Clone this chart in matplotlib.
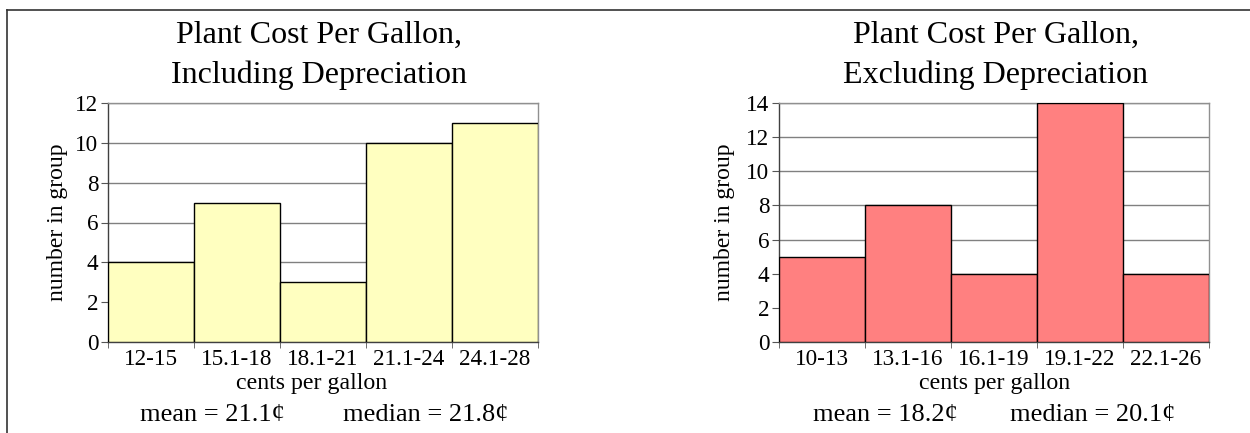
import matplotlib
matplotlib.use('Agg')
import matplotlib.pyplot as plt
from matplotlib.lines import Line2D

plt.rcParams['font.family'] = ['Liberation Serif', 'DejaVu Serif']

# data
incl_bins = ['12-15', '15.1-18', '18.1-21', '21.1-24', '24.1-28']
incl_counts = [4, 7, 3, 10, 11]
excl_bins = ['10-13', '13.1-16', '16.1-19', '19.1-22', '22.1-26']
excl_counts = [5, 8, 4, 14, 4]
incl_stats = ['mean = 21.1¢', 'median = 21.8¢']
excl_stats = ['mean = 18.2¢', 'median = 20.1¢']

W, H = 1250, 433
fig = plt.figure(figsize=(W / 100, H / 100), dpi=100)

def px(x, y):
    return x / W, 1 - y / H

def draw_panel(left_px, bins, counts, ymax, color, title, stats, title_x, stats_x, xlab_x, ylab_x):
    ax = fig.add_axes([left_px / W, 1 - 342 / H, 430 / W, 239 / H])
    idx = list(range(len(counts)))
    ax.bar(idx, counts, width=1.0, align='edge', color=color,
           edgecolor='black', linewidth=1.0, zorder=3)
    ax.set_xlim(0, len(counts))
    ax.set_ylim(0, ymax)
    ax.set_yticks(range(0, ymax + 1, 2))
    ax.set_xticks([i + 0.5 for i in idx])
    ax.set_xticklabels(bins, fontsize=16.7)
    ax.set_xticks(range(len(counts) + 1), minor=True)
    ax.tick_params(axis='x', which='major', length=0, pad=5)
    ax.tick_params(axis='x', which='minor', length=4, color='#555555')
    ax.tick_params(axis='y', length=5, labelsize=16.7, pad=2, color='#555555')
    ax.grid(axis='y', color='#808080', linewidth=1.0, zorder=0)
    for s in ['top', 'right']:
        ax.spines[s].set_color('#909090')
    for s in ['left', 'bottom']:
        ax.spines[s].set_color('#404040')
    for s in ax.spines.values():
        s.set_linewidth(1.0)
    line1, line2 = title.split('\n')
    fig.text(*px(title_x, 43), line1, ha='center', va='baseline', fontsize=23)
    fig.text(*px(title_x, 83), line2, ha='center', va='baseline', fontsize=23)
    fig.text(*px(ylab_x, 222), 'number in group', rotation=90, ha='center', va='center', fontsize=17)
    fig.text(*px(xlab_x, 389), 'cents per gallon', ha='center', va='baseline', fontsize=17.2)
    fig.text(*px(stats_x[0], 421), stats[0], ha='center', va='baseline', fontsize=19)
    fig.text(*px(stats_x[1], 421), stats[1], ha='center', va='baseline', fontsize=19)

draw_panel(108, incl_bins, incl_counts, 12, '#FFFFC0',
           'Plant Cost Per Gallon,\nIncluding Depreciation', incl_stats,
           319, (212, 426), 312, 58)
draw_panel(779, excl_bins, excl_counts, 14, '#FF8080',
           'Plant Cost Per Gallon,\nExcluding Depreciation', excl_stats,
           996, (885, 1093), 995, 724)

# outer frame (top and left edges)
fig.add_artist(Line2D([7 / W, 1.0], [1 - 10 / H, 1 - 10 / H], color='#333333', linewidth=1.2))
fig.add_artist(Line2D([7 / W, 7 / W], [0.0, 1 - 10 / H], color='#333333', linewidth=1.2))

fig.savefig('out.png', dpi=100)
